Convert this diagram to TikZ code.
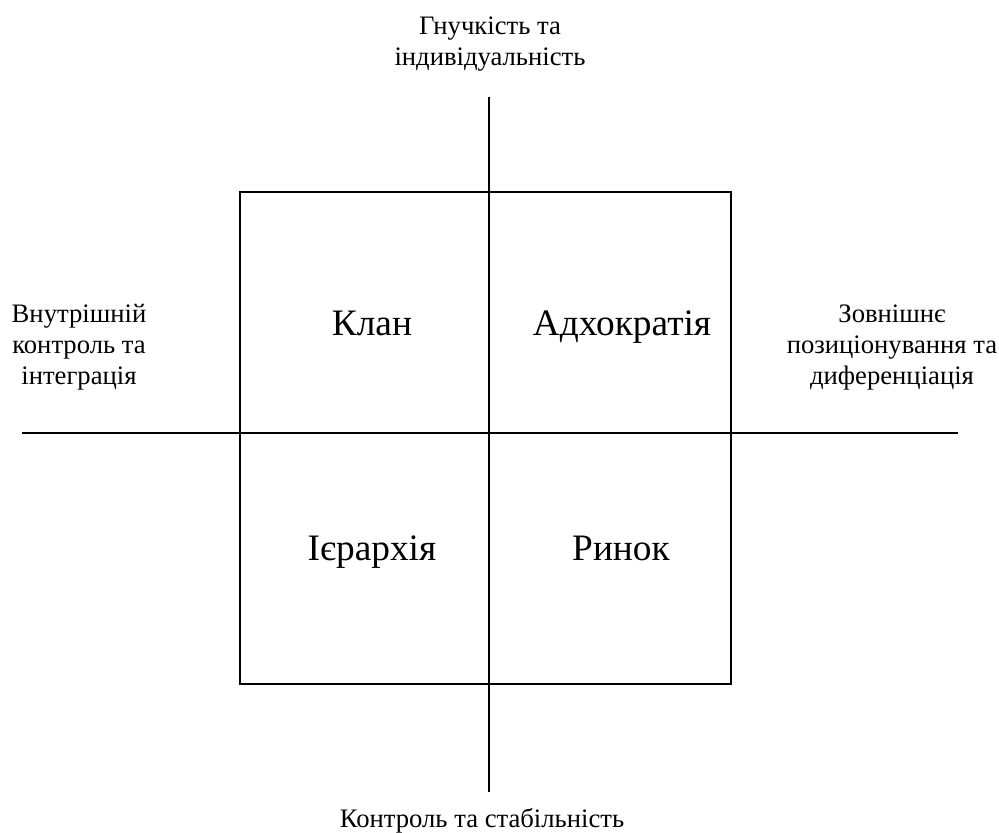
\documentclass[tikz,border=0pt]{standalone}
\usepackage{fontspec}
\setmainfont{Liberation Serif}

\begin{document}
\begin{tikzpicture}[x=0.75pt, y=-0.75pt,
  axis/.style={line width=1.4pt},
  side/.style={align=center, anchor=base, inner sep=0pt,
    font=\rmfamily\fontsize{20}{23}\selectfont},
  quad/.style={anchor=base, inner sep=0pt,
    font=\rmfamily\fontsize{28}{32}\selectfont}]
  \useasboundingbox (0,0) rectangle (999,832);
  % axes and the frame
  \coordinate (N) at (489,97);
  \coordinate (S) at (489,792);
  \coordinate (W) at (22,433);
  \coordinate (E) at (958,433);
  \draw[axis] (N) -- (S);
  \draw[axis] (W) -- (E);
  \draw[axis] (240,192) rectangle (731,684);
  % quadrants
  \node[quad] (clan) at (372,335) {Клан};
  \node[quad] (adhoc) at (622,335) {Адхократія};
  \node[quad] (hier) at (372,560) {Ієрархія};
  \node[quad] (market) at (621,560) {Ринок};
  % axis captions (base = last line)
  \node[side] (flex) at (490,65) {Гнучкість та\\індивідуальність};
  \node[side] (ctrl) at (482,827) {Контроль та стабільність};
  \node[side] (inner) at (79,384) {Внутрішній\\контроль та\\інтеграція};
  \node[side] (outer) at (892,384) {Зовнішнє\\позиціонування та\\диференціація};
\end{tikzpicture}
\end{document}
